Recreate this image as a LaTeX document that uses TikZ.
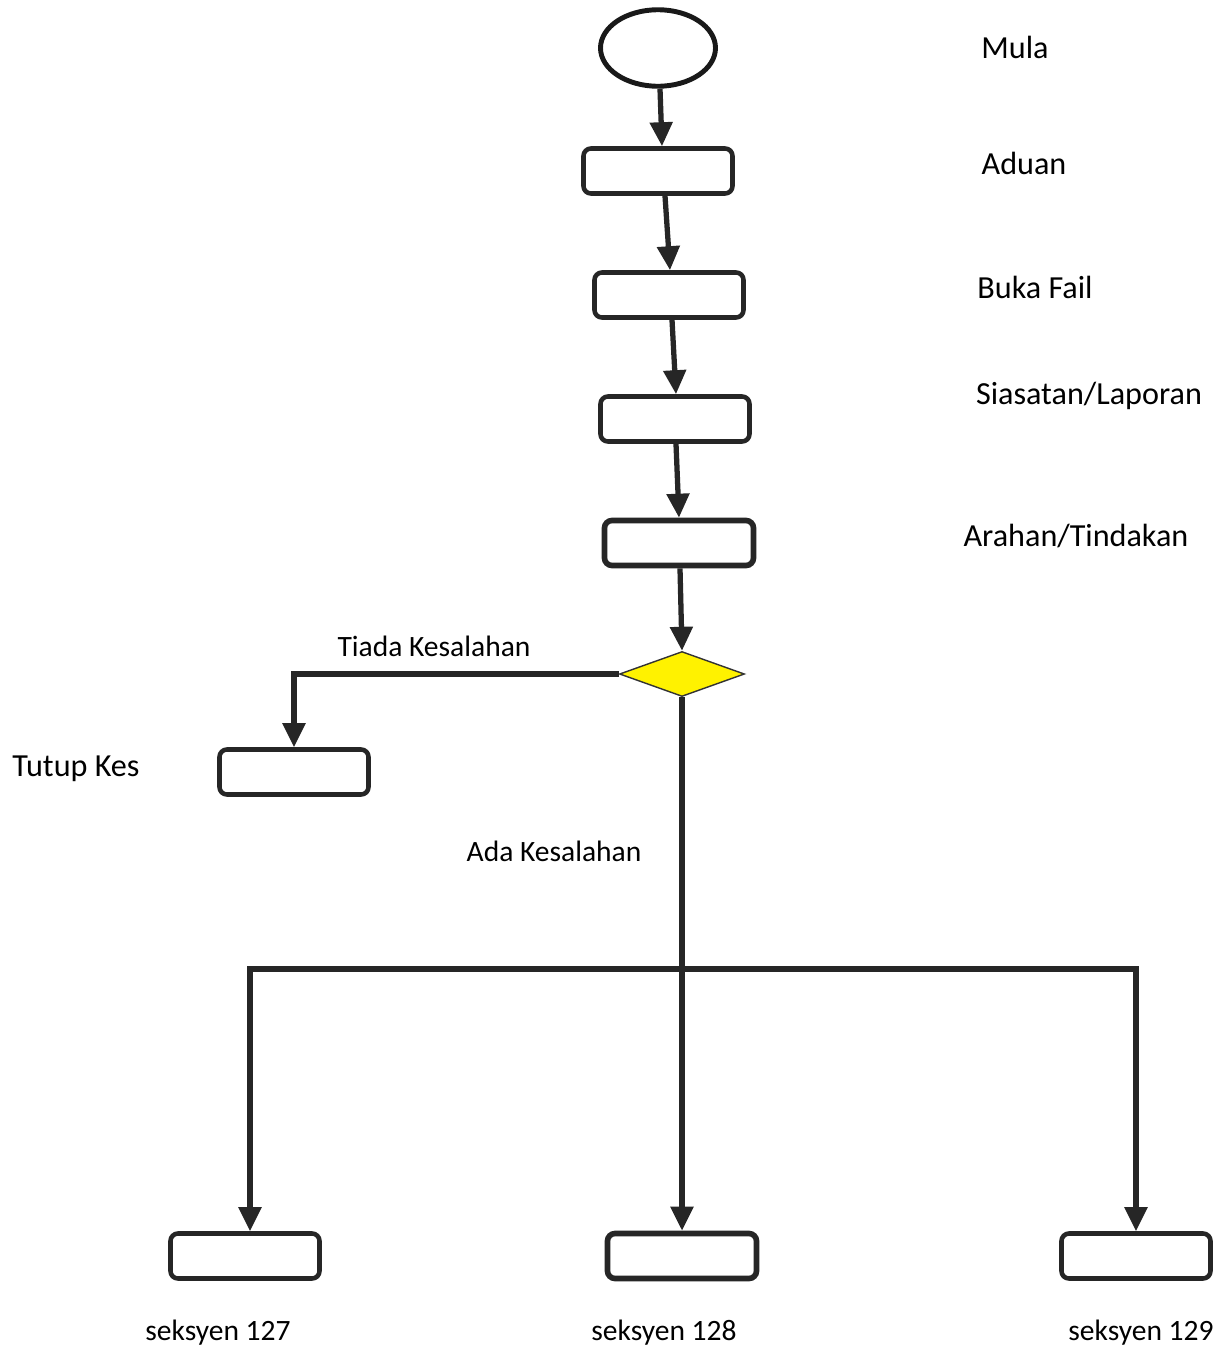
\documentclass[tikz,border=0pt]{standalone}
\usepackage{fontspec}
\setmainfont{Carlito}
\usetikzlibrary{positioning}
\usetikzlibrary{arrows.meta}
\usetikzlibrary{shapes}

\begin{document}
\begin{tikzpicture}[
    pbox/.style={draw=black!85, line width=2.6pt, rounded corners=0.15cm, minimum width=2.98cm, minimum height=0.9cm, inner sep=0},
    start/.style={ellipse, draw=black!90, line width=2.8pt, minimum width=2.3cm, minimum height=1.53cm, inner sep=0},
    decide/.style={diamond, draw=black!80, line width=0.8pt, fill=yellow, minimum width=2.5cm, minimum height=0.9cm, inner sep=0},
    lbl/.style={font=\fontsize{18.3}{22}\selectfont, anchor=base, inner sep=0},
    slbl/.style={font=\fontsize{16.8}{20}\selectfont, anchor=base, inner sep=0},
    flow/.style={-{Triangle[length=0.48cm, width=0.44cm]}, line width=3pt, draw=black!85}
]
\useasboundingbox (0,0) rectangle (24.46,-27.04);

% Main chain
\node[start] (mula) at (13.16,-0.96) {};
\node[pbox] (aduan) at (13.16,-3.42) {};
\node[pbox] (buka) at (13.38,-5.90) {};
\node[pbox] (siasat) at (13.50,-8.38) {};
\node[pbox, line width=3.2pt] (arahan) at (13.58,-10.86) {};
\node[decide] (pilih) at (13.64,-13.48) {};

% Outcomes
\node[pbox] (tutup) at (5.88,-15.44) {};
\node[pbox] (s127) at (4.90,-25.12) {};
\node[pbox, line width=3.2pt] (s128) at (13.64,-25.12) {};
\node[pbox] (s129) at (22.72,-25.12) {};

% Labels
\node[lbl] (tmula) at (20.30,-1.16) {Mula};
\node[lbl] (taduan) at (20.48,-3.48) {Aduan};
\node[lbl] (tbuka) at (20.70,-5.96) {Buka Fail};
\node[lbl] (tsiasat) at (21.78,-8.08) {Siasatan/Laporan};
\node[lbl] (tarahan) at (21.52,-10.92) {Arahan/Tindakan};
\node[slbl] (ttiada) at (8.68,-13.12) {Tiada Kesalahan};
\node[lbl] (ttutup) at (1.52,-15.52) {Tutup Kes};
\node[slbl] (tada) at (11.08,-17.22) {Ada Kesalahan};
\node[slbl] (t127) at (4.36,-26.80) {seksyen 127};
\node[slbl] (t128) at (13.28,-26.80) {seksyen 128};
\node[slbl] (t129) at (22.82,-26.80) {seksyen 129};

% Connectors
\draw[flow] ([xshift=0.04cm]mula.south) -- ([xshift=0.08cm]aduan.north);
\draw[flow] ([xshift=0.14cm]aduan.south) -- ([xshift=0.02cm]buka.north);
\draw[flow] ([xshift=0.06cm]buka.south) -- ([xshift=0.02cm]siasat.north);
\draw[flow] ([xshift=0.02cm]siasat.south) -- (arahan.north);
\draw[flow] ([xshift=0.02cm]arahan.south) -- (pilih.north);
\draw[flow] (pilih.west) -| (tutup.north);
\draw[flow] (pilih.south) -- (s128.north);
\coordinate (bus) at (13.64,-19.38);
\draw[flow] (bus) -| ([xshift=0.1cm]s127.north);
\draw[flow] (bus) -| (s129.north);

\end{tikzpicture}
\end{document}
